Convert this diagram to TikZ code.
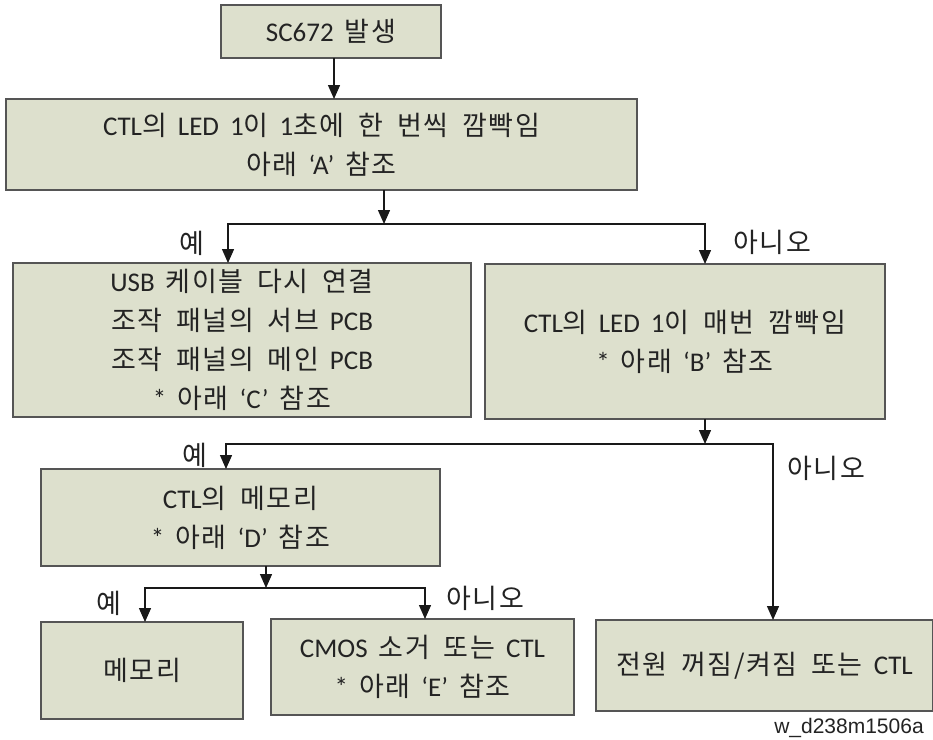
\documentclass[tikz,border=0pt]{standalone}
\usepackage{fontspec}
\setmainfont[WordSpace=1.8]{Carlito}
\newfontfamily\ko[Scale=1.0, LetterSpace=6, WordSpace=1.8]{Noto Sans CJK KR}
\newfontfamily\arialf{Liberation Sans}
\usetikzlibrary{arrows.meta}
\definecolor{boxfill}{RGB}{221,224,205}
\definecolor{boxline}{RGB}{85,85,85}
\definecolor{txt}{RGB}{35,35,35}
\newcommand\K[1]{{\ko #1}}
\begin{document}
\begin{tikzpicture}[x=1pt,y=-1pt,
  box/.style={draw=boxline, fill=boxfill, line width=1.6pt, inner sep=0pt, outer sep=0pt,
    align=center, text=txt, font=\fontsize{27}{39}\selectfont},
  conn/.style={draw=black!90, line width=1.4pt},
  arr/.style={conn, -{Triangle[width=12pt,length=14pt]}},
  arr2/.style={conn, {Triangle[width=12pt,length=14pt]}-{Triangle[width=12pt,length=14pt]}},
  lbl/.style={text=txt, inner sep=0pt, font=\fontsize{27}{30}\selectfont\ko}]
\useasboundingbox (0,0) rectangle (933,739);
\fill[white] (0,0) rectangle (933,739);

% boxes
\node[box, minimum width=220pt, minimum height=53pt] (B1) at (331,31.5) {SC672 \K{발생}};
\node[box, minimum width=631pt, minimum height=91pt] (B2) at (321.5,144.5)
  {CTL\K{의} LED 1\K{이} 1\K{초에 한 번씩 깜빡임}\\\K{아래} ‘A’ \K{참조}};
\node[box, minimum width=458pt, minimum height=154pt] (B3) at (242,340)
  {USB \K{케이블 다시 연결}\\\K{조작 패널의 서브} PCB\\\K{조작 패널의 메인} PCB\\* \K{아래} ‘C’ \K{참조}};
\node[box, minimum width=400pt, minimum height=155pt] (B4) at (685,341.5)
  {CTL\K{의} LED 1\K{이 매번 깜빡임}\\* \K{아래} ‘B’ \K{참조}};
\node[box, minimum width=399pt, minimum height=97pt] (B5) at (240.5,517.5)
  {CTL\K{의 메모리}\\* \K{아래} ‘D’ \K{참조}};
\node[box, minimum width=202pt, minimum height=97pt] (B6) at (142,670.5) {\K{메모리}};
\node[box, minimum width=303pt, minimum height=96pt] (B7) at (422.5,667)
  {CMOS \K{소거 또는} CTL\\* \K{아래} ‘E’ \K{참조}};
\node[box, minimum width=337pt, minimum height=91pt] (B8) at (764.5,665.5)
  {\K{전원 꺼짐/켜짐 또는} CTL};

% junction coordinates
\coordinate (x1) at (334,0);
\coordinate (j1) at (384,224);
\coordinate (j1l) at (228,224);
\coordinate (j1r) at (705,224);
\coordinate (j2) at (705,444);
\coordinate (j2l) at (226,444);
\coordinate (j2r) at (773,444);
\coordinate (j3) at (266,588);
\coordinate (j3l) at (145,588);
\coordinate (j3r) at (425,588);

% connectors
\draw[arr] (B1.south -| x1) -- (B2.north -| x1);
\draw[arr] (B2.south -| j1) -- (j1);
\draw[arr2] (B3.north -| j1l) -- (j1l) -- (j1r) -- (B4.north -| j1r);
\draw[arr] (B4.south -| j2) -- (j2);
\draw[arr2] (B5.north -| j2l) -- (j2l) -- (j2r) -- (B8.north -| j2r);
\draw[arr] (B5.south -| j3) -- (j3);
\draw[arr2] (B6.north -| j3l) -- (j3l) -- (j3r) -- (B7.north -| j3r);

% labels
\node[lbl] (L1) at (192,243) {예};
\node[lbl] (L2) at (772,242) {아니오};
\node[lbl] (L3) at (195,455) {예};
\node[lbl] (L4) at (826,468) {아니오};
\node[lbl] (L5) at (109,603) {예};
\node[lbl] (L6) at (485,598) {아니오};
\node[text=txt, inner sep=0pt, font=\fontsize{21}{24}\selectfont\arialf] (W) at (849,728) {w\_d238m1506a};
\end{tikzpicture}
\end{document}
